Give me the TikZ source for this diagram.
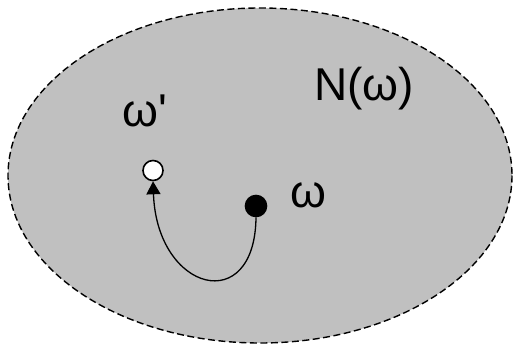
\documentclass[tikz,border=0pt]{standalone}
\usepackage{fontspec}
\newfontfamily\nbhfont{Liberation Sans}
\usetikzlibrary{arrows.meta}
\definecolor{hoodgray}{HTML}{C0C0C0}

\begin{document}
\begin{tikzpicture}[
    x=1pt, y=-1pt,
    every node/.style={font=\nbhfont\fontsize{46}{52}\selectfont, anchor=base, inner sep=0pt},
    state/.style={circle, draw, line width=1.6pt, minimum size=20pt, inner sep=0pt, anchor=center},
    move/.style={-{Triangle[length=13pt,width=14pt]}, line width=1.3pt}
]
\useasboundingbox (0,0) rectangle (513,344);
% neighbourhood
\path[fill=hoodgray, draw=black, dash pattern=on 7pt off 3.5pt, line width=1.4pt]
    (260,175.5) ellipse [x radius=252, y radius=167.5];
\node (hood) at (364,101) {N(ω)};
% current and next solution
\node[state, fill=white] (next) at (153,170.5) {};
\node[state, fill=black, minimum size=21pt] (cur) at (256,206) {};
\node (nextlabel) at (145,127) {ω'};
\node (curlabel) at (308,208) {ω};
\draw[move] (cur.south) .. controls (255,317) and (157,292) .. (next.south);
\end{tikzpicture}
\end{document}
